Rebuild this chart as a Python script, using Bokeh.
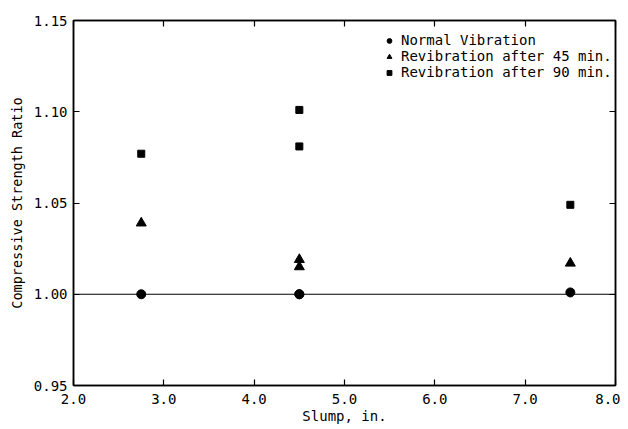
from bokeh.plotting import figure
from bokeh.models import LinearAxis, FixedTicker, Span, Legend, LegendItem, Range1d
from bokeh.embed import file_html
from bokeh.resources import INLINE

# data
slump = [2.75, 4.5, 4.5, 7.5]
normal_vibration = [1.000, 1.000, 1.000, 1.001]
revib_45 = [1.039, 1.019, 1.015, 1.017]
revib_90 = [1.077, 1.101, 1.081, 1.049]
baseline = 1.00
x_ticks = [2.0, 3.0, 4.0, 5.0, 6.0, 7.0, 8.0]
x_labels = ["2.0", "3.0", "4.0", "5.0", "6.0", "7.0", "8.0"]
y_ticks = [0.95, 1.00, 1.05, 1.10, 1.15]
y_labels = ["0.95", "1.00", "1.05", "1.10", "1.15"]

FONT = "DejaVu Sans Mono"

p = figure(width=620, height=426, output_backend="svg", toolbar_location=None,
           x_range=Range1d(2.0, 8.0), y_range=Range1d(0.95, 1.15),
           min_border_left=73, min_border_right=5, min_border_top=20, min_border_bottom=40)
p.xgrid.visible = False
p.ygrid.visible = False
p.outline_line_color = "black"
p.outline_line_width = 1.5
p.background_fill_color = "white"
p.border_fill_color = "white"

for ax, ticks, labels in ((p.xaxis[0], x_ticks, x_labels), (p.yaxis[0], y_ticks, y_labels)):
    ax.ticker = FixedTicker(ticks=ticks)
    ax.major_label_overrides = {t: l for t, l in zip(ticks, labels)}
    ax.minor_tick_line_color = None
    ax.major_tick_in = 6
    ax.major_tick_out = 0
    ax.axis_line_color = "black"
    ax.axis_line_width = 1.5
    ax.major_tick_line_color = "black"
    ax.major_tick_line_width = 1.2
    ax.major_label_text_font = FONT
    ax.major_label_text_font_size = "14px"
    ax.major_label_text_color = "black"
    ax.axis_label_text_font = FONT
    ax.axis_label_text_font_style = "normal"
    ax.axis_label_text_color = "black"

p.xaxis.axis_label = "Slump, in."
p.yaxis.axis_label = "Compressive Strength Ratio"
p.xaxis.axis_label_text_font_size = "14px"
p.yaxis.axis_label_text_font_size = "13.5px"
p.xaxis.major_label_standoff = 8
p.yaxis.major_label_standoff = 6
p.xaxis.axis_label_standoff = 1
p.yaxis.axis_label_standoff = 6

for side, ticks in (("right", y_ticks), ("above", x_ticks)):
    ax = LinearAxis(ticker=FixedTicker(ticks=ticks), major_tick_in=6, major_tick_out=0,
                    minor_tick_line_color=None, major_label_standoff=0,
                    axis_line_width=1.5, major_tick_line_width=1.2,
                    major_label_overrides={t: "" for t in ticks})
    p.add_layout(ax, side)

p.add_layout(Span(location=baseline, dimension="width", line_color="black", line_width=1))

r1 = p.scatter(slump, normal_vibration, marker="circle", size=9, color="black")
r2 = p.scatter(slump, revib_45, marker="triangle", size=10, color="black")
r3 = p.scatter(slump, revib_90, marker="square", size=7, color="black")

legend = Legend(items=[
    LegendItem(label="Normal Vibration", renderers=[r1]),
    LegendItem(label="Revibration after 45 min.", renderers=[r2]),
    LegendItem(label="Revibration after 90 min.", renderers=[r3]),
], location=(310, 305))
legend.border_line_color = None
legend.background_fill_alpha = 0
legend.label_text_font = FONT
legend.label_text_font_size = "14px"
legend.label_text_color = "black"
legend.glyph_width = 12
legend.glyph_height = 15
legend.label_height = 15
legend.label_standoff = 6
legend.spacing = -1
legend.padding = 0
legend.margin = 0
p.add_layout(legend)

open("out.html", "w").write(file_html(p, INLINE))
